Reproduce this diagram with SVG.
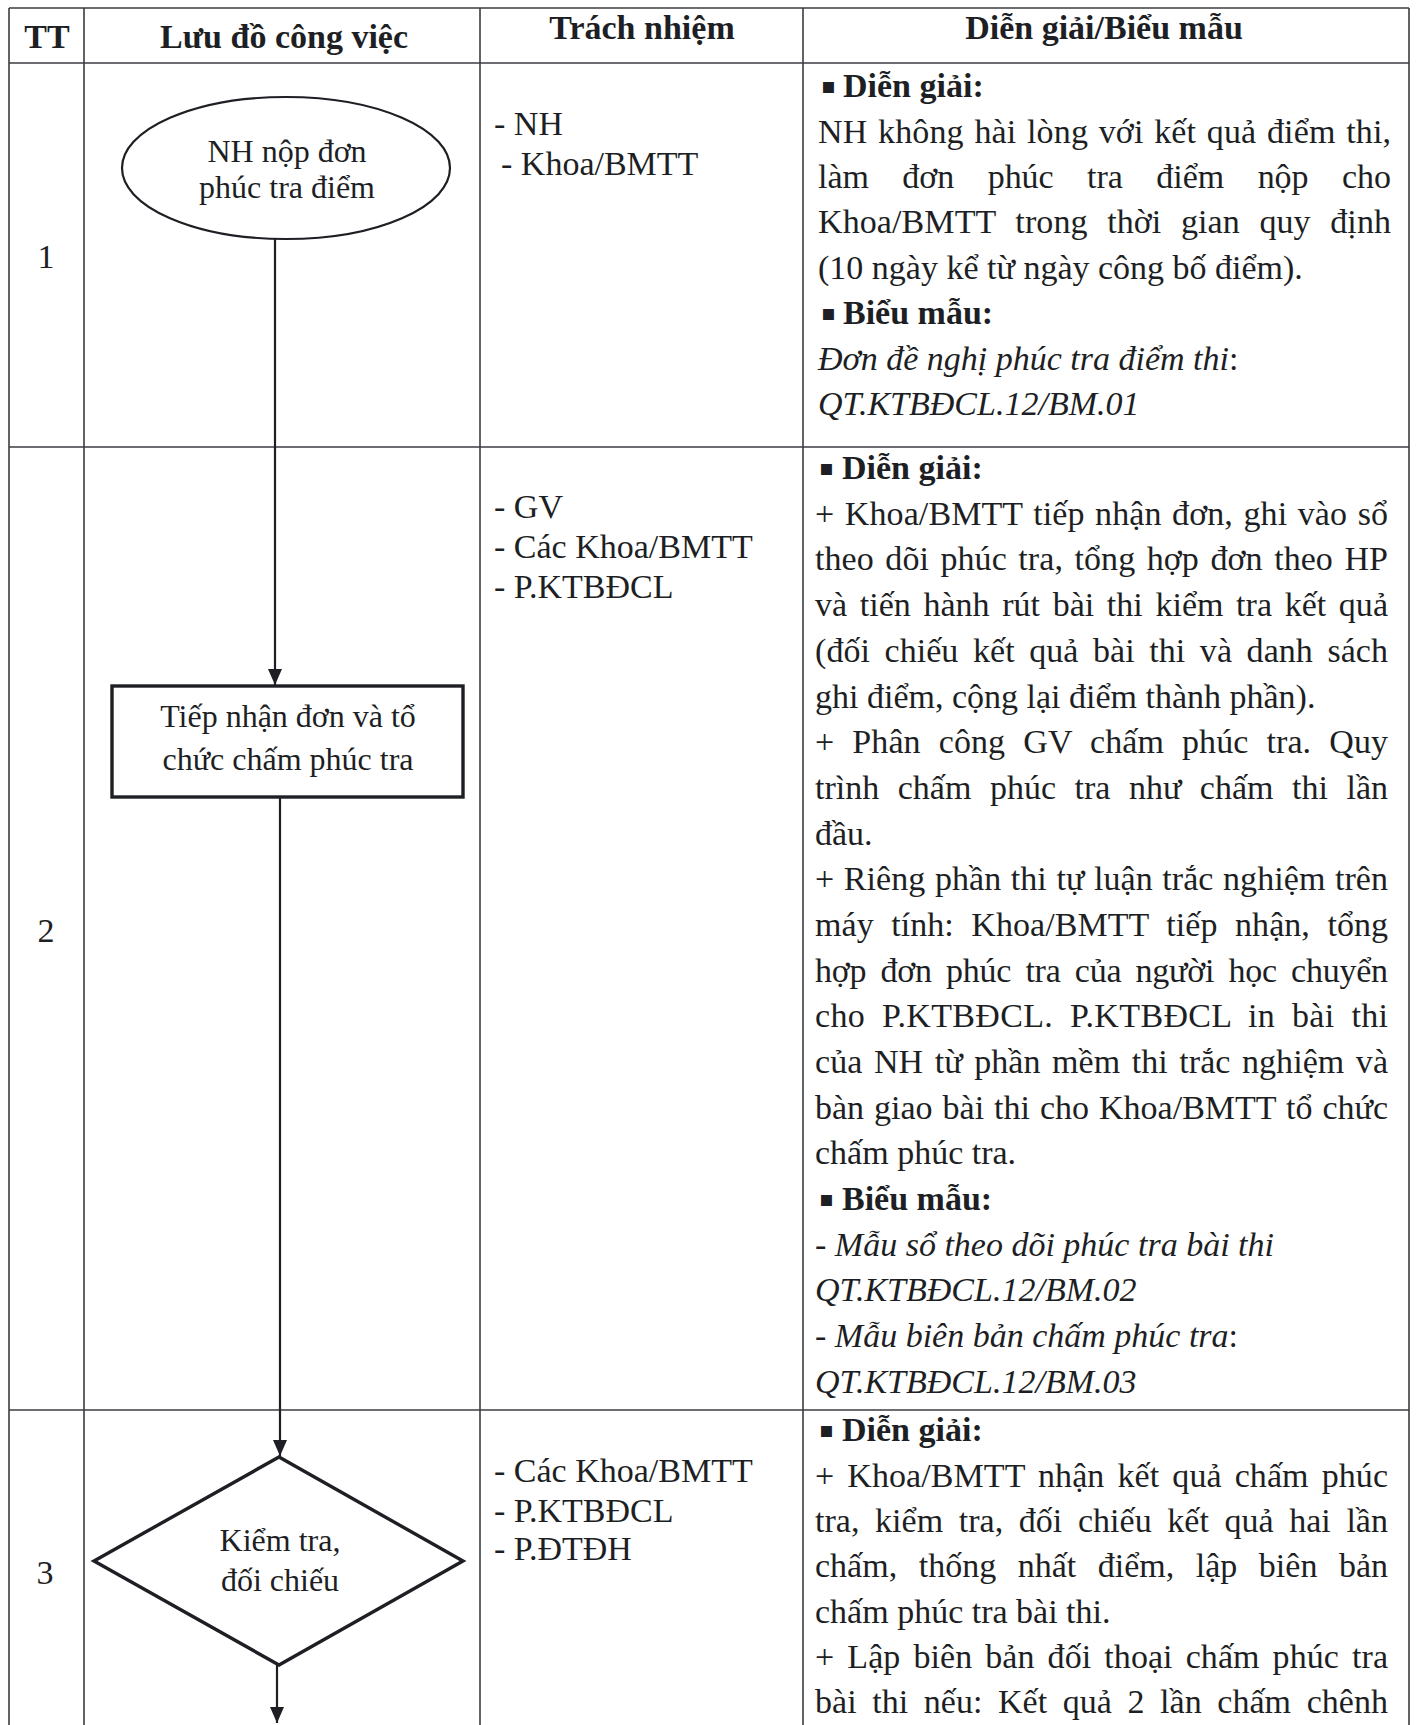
<svg xmlns="http://www.w3.org/2000/svg" width="1416" height="1725" viewBox="0 0 1416 1725">
<style>
text{font-family:"Liberation Serif","Times New Roman",serif;fill:#1d1f24}
.h{font-size:34px;font-weight:bold;text-anchor:middle}
.t{font-size:34px}
.bb{font-size:34px;font-weight:bold}
.i{font-size:34px;font-style:italic}
.n{font-size:32px;text-anchor:middle}
.num{font-size:34px;text-anchor:middle}
.bul{font-family:"DejaVu Sans",sans-serif;font-size:22px}
.grid{stroke:#3a3c42;stroke-width:1.6;fill:none}
.node{fill:none;stroke:#1d1f24}
.conn{stroke:#1d1f24;stroke-width:2.2;fill:none}
</style>
<defs>
<marker id="arr" viewBox="0 0 16 14" refX="16" refY="7" markerWidth="16" markerHeight="14" markerUnits="userSpaceOnUse" orient="auto">
<path d="M0,0 L16,7 L0,14 Z" fill="#1d1f24"/>
</marker>
</defs>
<rect x="0" y="0" width="1416" height="1725" fill="#ffffff"/>

<g id="table">
<line class="grid" x1="9" y1="8" x2="1409" y2="8"/>
<line class="grid" x1="9" y1="63" x2="1409" y2="63"/>
<line class="grid" x1="9" y1="447" x2="1409" y2="447"/>
<line class="grid" x1="9" y1="1410" x2="1409" y2="1410"/>
<line class="grid" x1="9" y1="8" x2="9" y2="1725"/>
<line class="grid" x1="84" y1="8" x2="84" y2="1725"/>
<line class="grid" x1="480" y1="8" x2="480" y2="1725"/>
<line class="grid" x1="803" y1="8" x2="803" y2="1725"/>
<line class="grid" x1="1409" y1="8" x2="1409" y2="1725"/>
</g>

<g id="header">
<text class="h" x="47" y="48">TT</text>
<text class="h" x="284" y="48">Lưu đồ công việc</text>
<text class="h" x="642" y="39">Trách nhiệm</text>
<text class="h" x="1104" y="39">Diễn giải/Biểu mẫu</text>
</g>

<g id="numbers">
<text class="num" x="46" y="268">1</text>
<text class="num" x="46" y="942">2</text>
<text class="num" x="45" y="1584">3</text>
</g>

<g id="responsibility">
<text class="t" x="494" y="135">- NH</text>
<text class="t" x="501" y="175">- Khoa/BMTT</text>
<text class="t" x="494" y="518">- GV</text>
<text class="t" x="494" y="558">- Các Khoa/BMTT</text>
<text class="t" x="494" y="598">- P.KTBĐCL</text>
<text class="t" x="494" y="1482">- Các Khoa/BMTT</text>
<text class="t" x="494" y="1522">- P.KTBĐCL</text>
<text class="t" x="494" y="1560">- P.ĐTĐH</text>
</g>

<g id="desc1">
<text class="bul" x="821" y="93">▪</text>
<text class="bb" x="843" y="97">Diễn giải:</text>
<text class="t" x="818" y="143" textLength="573" lengthAdjust="spacing" word-spacing="2">NH không hài lòng với kết quả điểm thi,</text>
<text class="t" x="818" y="188" textLength="573" lengthAdjust="spacing" word-spacing="25">làm đơn phúc tra điểm nộp cho</text>
<text class="t" x="818" y="233" textLength="573" lengthAdjust="spacing" word-spacing="11">Khoa/BMTT trong thời gian quy định</text>
<text class="t" x="818" y="279">(10 ngày kể từ ngày công bố điểm).</text>
<text class="bul" x="821" y="320">▪</text>
<text class="bb" x="843" y="324">Biểu mẫu:</text>
<text class="t" x="818" y="370"><tspan class="i">Đơn đề nghị phúc tra điểm thi</tspan>:</text>
<text class="i" x="818" y="415">QT.KTBĐCL.12/BM.01</text>
</g>

<g id="desc2">
<text class="bul" x="819" y="475">▪</text>
<text class="bb" x="842" y="479">Diễn giải:</text>
<text class="t" x="815" y="525" textLength="573" lengthAdjust="spacing" word-spacing="2">+ Khoa/BMTT tiếp nhận đơn, ghi vào sổ</text>
<text class="t" x="815" y="570" textLength="573" lengthAdjust="spacing" word-spacing="3">theo dõi phúc tra, tổng hợp đơn theo HP</text>
<text class="t" x="815" y="616" textLength="573" lengthAdjust="spacing" word-spacing="4">và tiến hành rút bài thi kiểm tra kết quả</text>
<text class="t" x="815" y="662" textLength="573" lengthAdjust="spacing" word-spacing="6">(đối chiếu kết quả bài thi và danh sách</text>
<text class="t" x="815" y="708">ghi điểm, cộng lại điểm thành phần).</text>
<text class="t" x="815" y="753" textLength="573" lengthAdjust="spacing" word-spacing="9.5">+ Phân công GV chấm phúc tra. Quy</text>
<text class="t" x="815" y="799" textLength="573" lengthAdjust="spacing" word-spacing="10">trình chấm phúc tra như chấm thi lần</text>
<text class="t" x="815" y="845">đầu.</text>
<text class="t" x="815" y="890" textLength="573" lengthAdjust="spacing" word-spacing="1">+ Riêng phần thi tự luận trắc nghiệm trên</text>
<text class="t" x="815" y="936" textLength="573" lengthAdjust="spacing" word-spacing="9">máy tính: Khoa/BMTT tiếp nhận, tổng</text>
<text class="t" x="815" y="982" textLength="573" lengthAdjust="spacing" word-spacing="6">hợp đơn phúc tra của người học chuyển</text>
<text class="t" x="815" y="1027" textLength="573" lengthAdjust="spacing" word-spacing="8">cho P.KTBĐCL. P.KTBĐCL in bài thi</text>
<text class="t" x="815" y="1073" textLength="573" lengthAdjust="spacing" word-spacing="3">của NH từ phần mềm thi trắc nghiệm và</text>
<text class="t" x="815" y="1119" textLength="573" lengthAdjust="spacing" word-spacing="1.5">bàn giao bài thi cho Khoa/BMTT tổ chức</text>
<text class="t" x="815" y="1164">chấm phúc tra.</text>
<text class="bul" x="819" y="1206">▪</text>
<text class="bb" x="842" y="1210">Biểu mẫu:</text>
<text class="i" x="815" y="1256">- Mẫu sổ theo dõi phúc tra bài thi</text>
<text class="i" x="815" y="1301">QT.KTBĐCL.12/BM.02</text>
<text class="t" x="815" y="1347"><tspan class="i">- Mẫu biên bản chấm phúc tra</tspan>:</text>
<text class="i" x="815" y="1393">QT.KTBĐCL.12/BM.03</text>
</g>

<g id="desc3">
<text class="bul" x="819" y="1437">▪</text>
<text class="bb" x="842" y="1441">Diễn giải:</text>
<text class="t" x="815" y="1487" textLength="573" lengthAdjust="spacing" word-spacing="4.5">+ Khoa/BMTT nhận kết quả chấm phúc</text>
<text class="t" x="815" y="1532" textLength="573" lengthAdjust="spacing" word-spacing="7">tra, kiểm tra, đối chiếu kết quả hai lần</text>
<text class="t" x="815" y="1577" textLength="573" lengthAdjust="spacing" word-spacing="13">chấm, thống nhất điểm, lập biên bản</text>
<text class="t" x="815" y="1623">chấm phúc tra bài thi.</text>
<text class="t" x="815" y="1668" textLength="573" lengthAdjust="spacing" word-spacing="4.5">+ Lập biên bản đối thoại chấm phúc tra</text>
<text class="t" x="815" y="1713" textLength="573" lengthAdjust="spacing" word-spacing="7">bài thi nếu: Kết quả 2 lần chấm chênh</text>
</g>

<g id="connectors">
<line class="conn" x1="275" y1="239" x2="275" y2="685" marker-end="url(#arr)"/>
<line class="conn" x1="280" y1="798" x2="280" y2="1456" marker-end="url(#arr)"/>
<line class="conn" x1="277" y1="1665" x2="277" y2="1723" marker-end="url(#arr)"/>
</g>

<g id="node1">
<ellipse class="node" cx="286" cy="168" rx="164" ry="71" stroke-width="2.2"/>
<text class="n" x="287" y="162">NH nộp đơn</text>
<text class="n" x="287" y="198">phúc tra điểm</text>
</g>

<g id="node2">
<rect class="node" x="112" y="686" width="351" height="111" stroke-width="3.4"/>
<text class="n" x="288" y="727">Tiếp nhận đơn và tổ</text>
<text class="n" x="288" y="770">chức chấm phúc tra</text>
</g>

<g id="node3">
<polygon class="node" points="279,1457 463,1561 279,1665 94,1561" stroke-width="3.4" stroke-linejoin="miter"/>
<text class="n" x="280" y="1551">Kiểm tra,</text>
<text class="n" x="280" y="1591">đối chiếu</text>
</g>
</svg>
